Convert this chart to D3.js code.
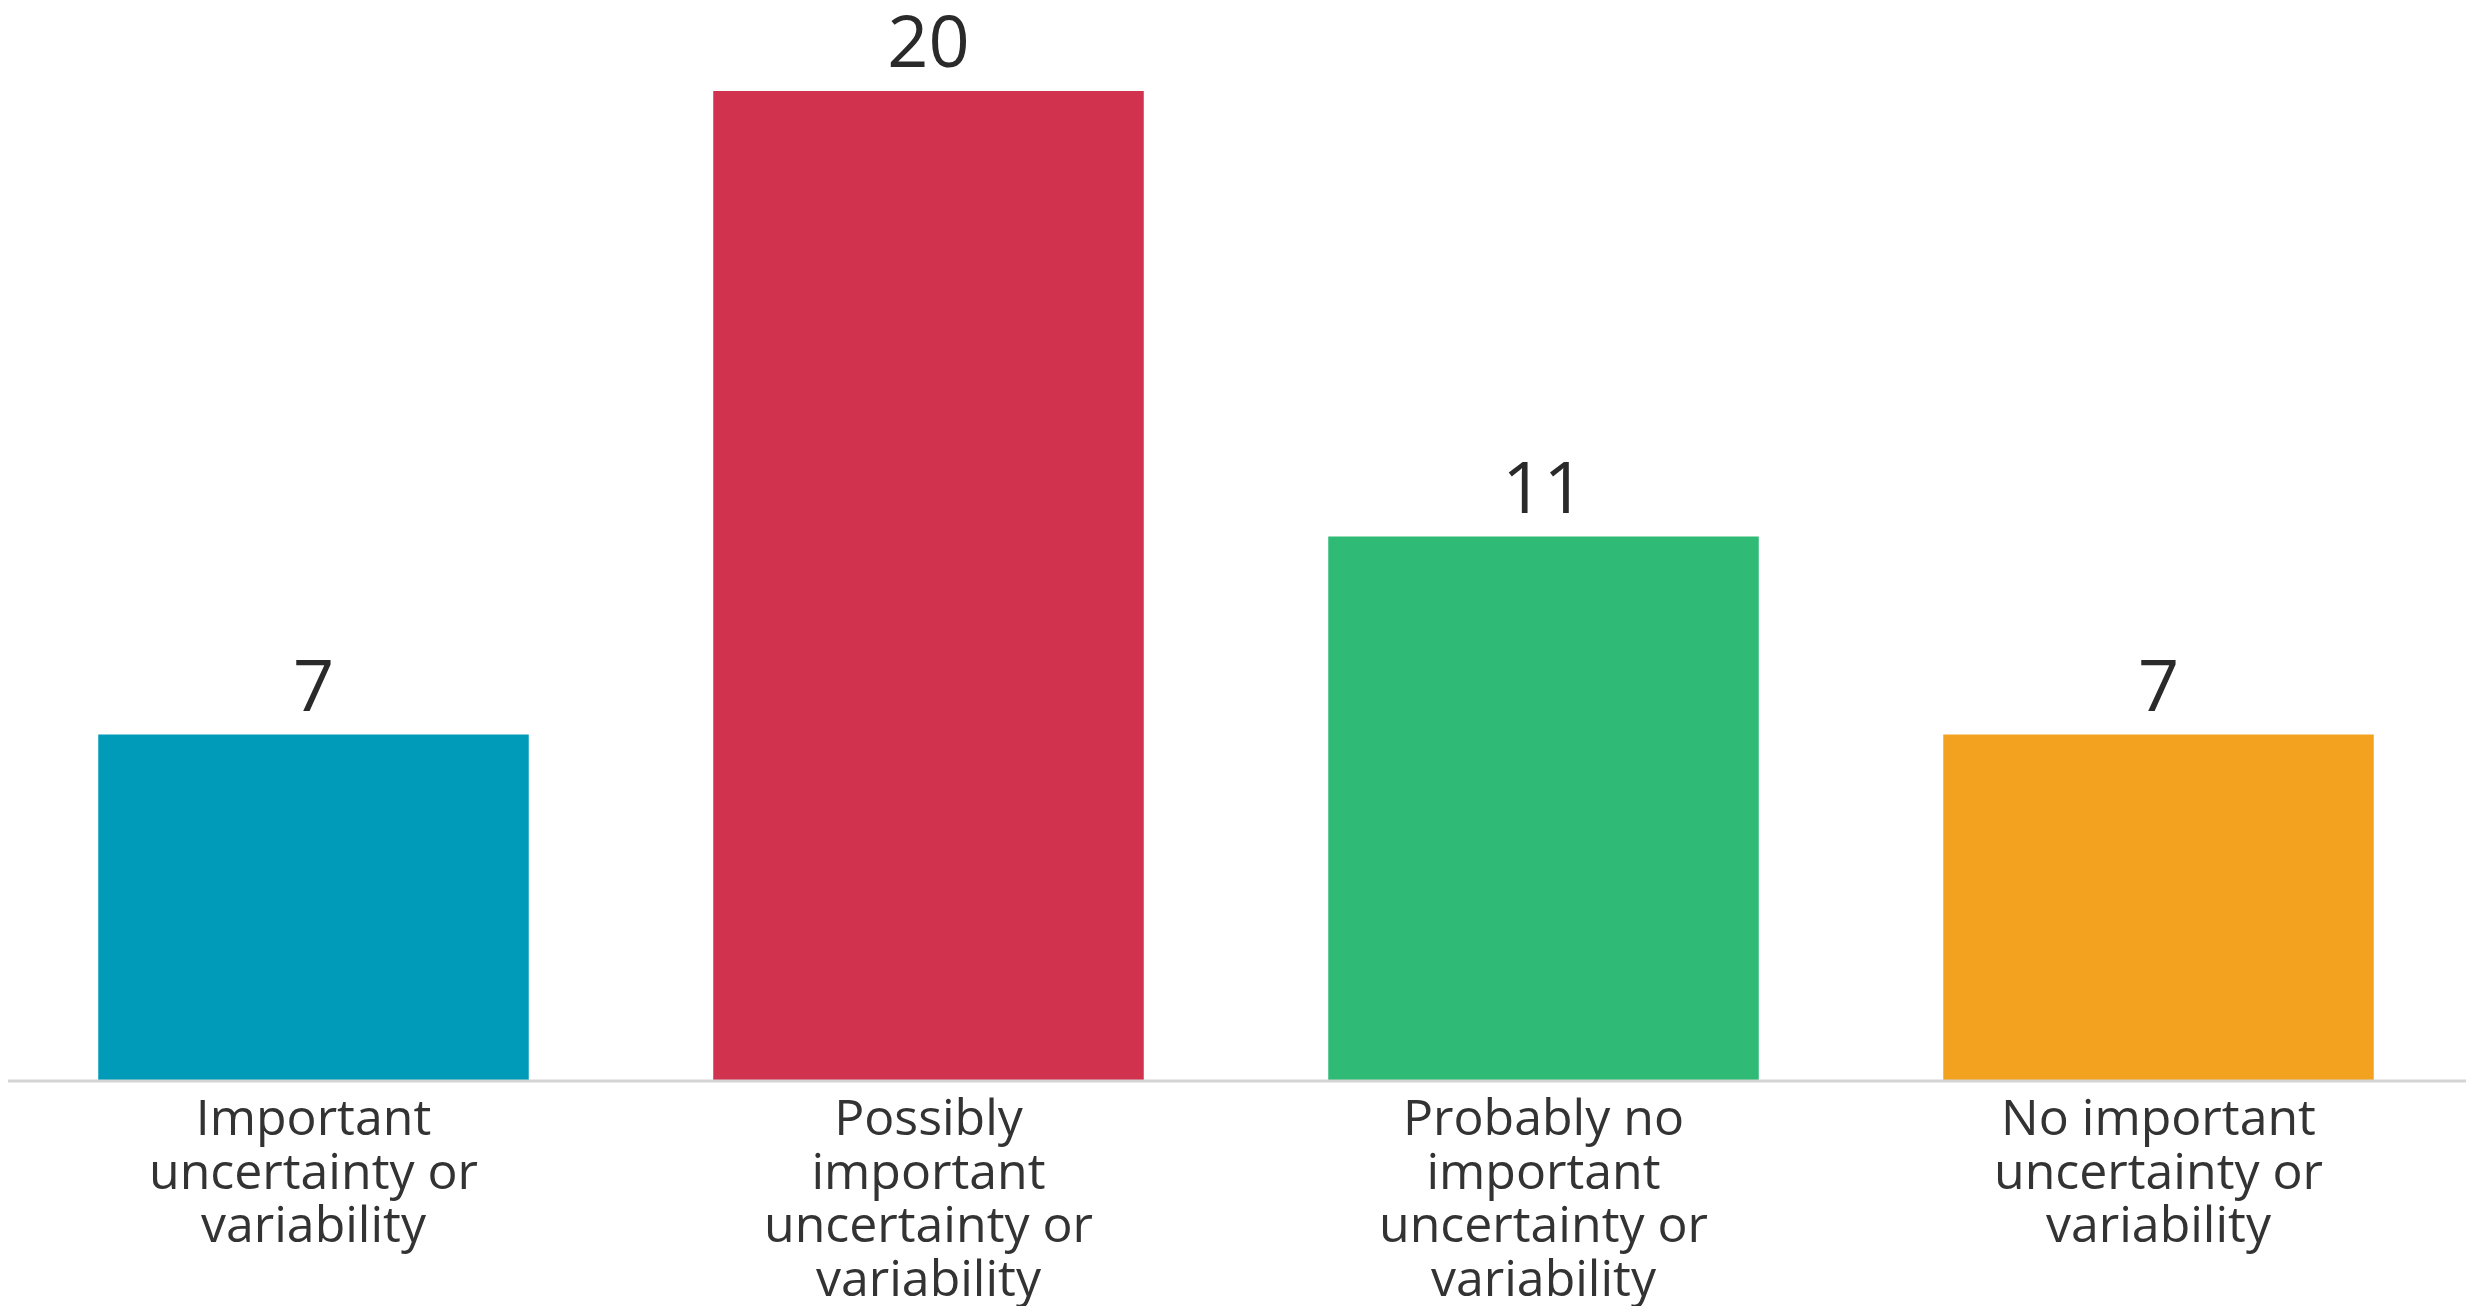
<!DOCTYPE html>
<html>
<head>
<meta charset="utf-8">
<script src="https://cdn.jsdelivr.net/npm/d3@7"></script>
<style>
  html, body { margin: 0; padding: 0; background: #ffffff; }
  svg { display: block; }
</style>
</head>
<body>
<script>
const categories = [
  "Important uncertainty or variability",
  "Possibly important uncertainty or variability",
  "Probably no important uncertainty or variability",
  "No important uncertainty or variability"
];
const tickLabels = [
  ["Important", "uncertainty or", "variability"],
  ["Possibly", "important", "uncertainty or", "variability"],
  ["Probably no", "important", "uncertainty or", "variability"],
  ["No important", "uncertainty or", "variability"]
];
const values = [7, 20, 11, 7];
const colors = ["#009bb8", "#d1324e", "#2fba75", "#f3a220"];

const W = 2466, H = 1306;
const svg = d3.select("body").append("svg").attr("width", W).attr("height", H);

const x = d3.scaleBand().domain(categories).range([6, 2466]).paddingInner(0.3).paddingOuter(0.15);
const y = d3.scaleLinear().domain([0, 20]).range([1081, 91]);

svg.selectAll("rect.bar").data(values).enter().append("rect")
  .attr("class", "bar")
  .attr("x", (d, i) => x(categories[i]))
  .attr("width", x.bandwidth())
  .attr("y", d => y(d))
  .attr("height", d => y(0) - y(d))
  .attr("fill", (d, i) => colors[i]);

// baseline axis
const axis = svg.append("g").attr("transform", `translate(0,${y(0)})`)
  .call(d3.axisBottom(x).tickSize(0).tickFormat(""));
axis.select(".domain").attr("stroke", "#d4d4d4").attr("stroke-width", 3)
  .attr("d", "M8,0H2466");

// value labels
svg.selectAll("text.val").data(values).enter().append("text")
  .attr("class", "val")
  .attr("x", (d, i) => x(categories[i]) + x.bandwidth() / 2)
  .attr("y", d => y(d) - 24)
  .attr("text-anchor", "middle")
  .attr("font-family", "'Open Sans', sans-serif")
  .attr("font-size", 72)
  .attr("fill", "#2a2a2a")
  .text(d => d);

// category labels
tickLabels.forEach((lines, i) => {
  const t = svg.append("text")
    .attr("text-anchor", "middle")
    .attr("font-family", "'Open Sans', sans-serif")
    .attr("font-size", 50)
    .attr("fill", "#333333");
  lines.forEach((ln, j) => {
    t.append("tspan")
      .attr("x", x(categories[i]) + x.bandwidth() / 2)
      .attr("y", 1135 + j * 53.5)
      .text(ln);
  });
});
</script>
</body>
</html>
